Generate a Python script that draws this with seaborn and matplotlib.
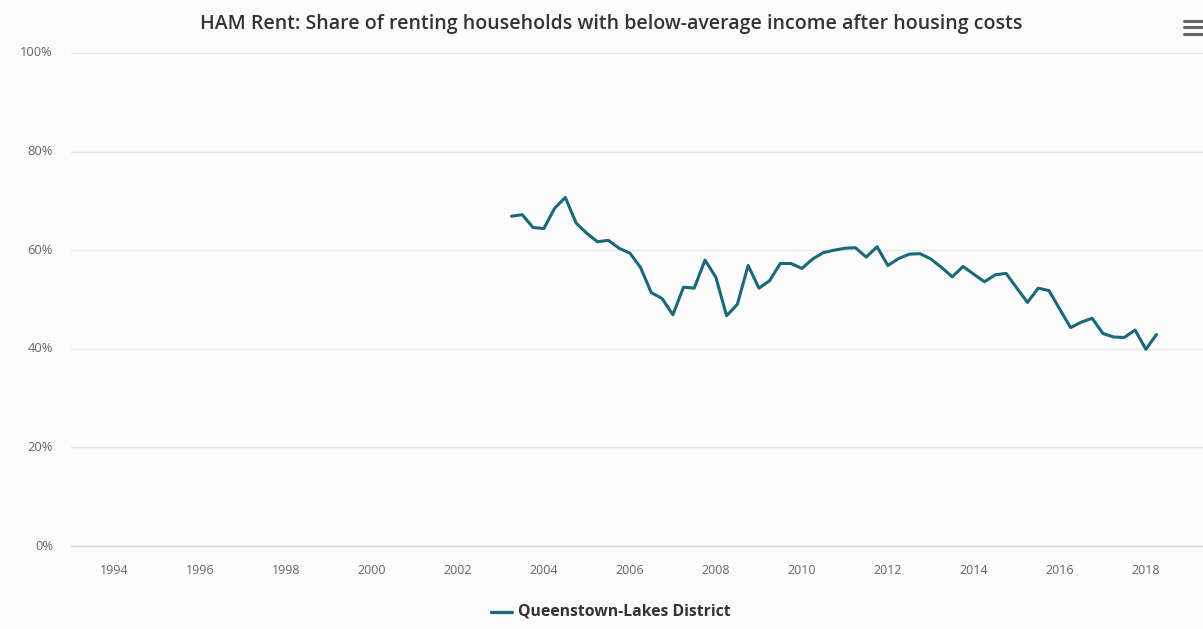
import numpy as np
import pandas as pd
import matplotlib
matplotlib.use("Agg")
import matplotlib.pyplot as plt
import matplotlib.dates as mdates
from matplotlib.lines import Line2D
import seaborn as sns

# ---- data (quarterly, 2003 Q2 .. 2018 Q2) ----
series_name = "Queenstown-Lakes District"
first_quarter = "2003-04-01"
share_pct = [
    66.9, 67.2, 64.6, 64.4, 68.5, 70.7, 65.5, 63.4, 61.7, 62.0,
    60.4, 59.4, 56.5, 51.4, 50.2, 46.9, 52.5, 52.3, 58.0, 54.5,
    46.7, 49.0, 56.9, 52.3, 53.8, 57.3, 57.3, 56.3, 58.2, 59.5,
    60.0, 60.4, 60.5, 58.6, 60.7, 56.9, 58.3, 59.2, 59.3, 58.2,
    56.5, 54.6, 56.7, 55.1, 53.6, 55.0, 55.3, 52.3, 49.4, 52.3,
    51.8, 48.0, 44.3, 45.4, 46.2, 43.1, 42.4, 42.3, 43.8, 39.9,
    42.9,
]
tick_years = list(range(1994, 2019, 2))
y_ticks = [0, 20, 40, 60, 80, 100]
title = "HAM Rent: Share of renting households with below-average income after housing costs"

dates = pd.date_range(first_quarter, periods=len(share_pct), freq="QS")
df = pd.DataFrame({"date": dates, "share": share_pct, "area": series_name})

# ---- style ----
sns.set_style("white")
plt.rcParams["font.family"] = ["Open Sans", "DejaVu Sans"]
line_color = "#19697a"
bg = "#fcfcfd"

fig = plt.figure(figsize=(12.03, 6.29), dpi=100, facecolor=bg)
W, H = 1203, 629
ax = fig.add_axes([71 / W, (629 - 546) / H, (1203 - 71) / W, (546 - 53) / H])
ax.set_facecolor(bg)

sns.lineplot(data=df, x="date", y="share", color=line_color, linewidth=2.2,
             ax=ax, legend=False)

ax.set_ylim(0, 100)
ax.set_xlim(pd.Timestamp("1993-01-01"), pd.Timestamp("2019-05-01"))
ax.set_yticks(y_ticks)
ax.set_yticklabels([f"{v}%" for v in y_ticks])
ax.set_xticks([pd.Timestamp(f"{y}-01-01") for y in tick_years])
ax.xaxis.set_major_formatter(mdates.DateFormatter("%Y"))
ax.set_xlabel("")
ax.set_ylabel("")

ax.grid(axis="y", color="#e6e6e6", linewidth=1)
ax.set_axisbelow(True)
for s in ["top", "right", "left"]:
    ax.spines[s].set_visible(False)
ax.spines["bottom"].set_color("#ccd6eb")
ax.spines["bottom"].set_linewidth(1)

ax.tick_params(axis="x", colors="#666666", labelsize=9, length=10, width=1,
               direction="out", pad=3)
ax.tick_params(axis="x", color="#ccd6eb")
ax.tick_params(axis="y", colors="#666666", labelsize=9.3, length=0, pad=13)
for lab in ax.get_yticklabels():
    lab.set_verticalalignment("center")

# title
fig.text(611 / W, 1 - 24 / H, title, ha="center", va="center", fontsize=14,
         fontweight="semibold", color="#333333")

# hamburger menu icon
for yy in (21, 27, 34):
    fig.add_artist(Line2D([1184 / W, 1203 / W], [1 - yy / H, 1 - yy / H],
                          color="#666666", linewidth=2.2,
                          transform=fig.transFigure))

# legend
fig.add_artist(Line2D([491 / W, 512 / W], [1 - 612 / H, 1 - 612 / H],
                      color=line_color, linewidth=2.4, transform=fig.transFigure))
fig.text(518 / W, 1 - 612 / H, series_name, ha="left", va="center",
         fontsize=11.3, fontweight="bold", color="#333333")

fig.savefig("out.png", dpi=100, facecolor=bg)
